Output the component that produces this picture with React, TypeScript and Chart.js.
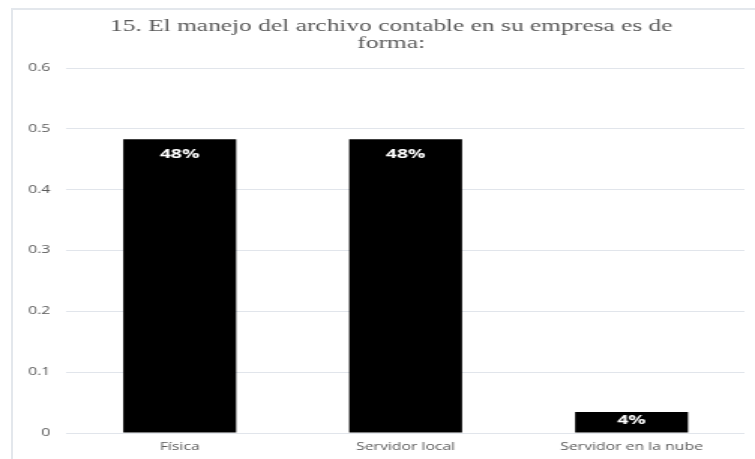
import React, { useEffect, useRef } from "react";
import { Chart, registerables } from "chart.js";

Chart.register(...registerables);

const categories = ["Física", "Servidor local", "Servidor en la nube"];
const values = [0.483, 0.483, 0.0345];
const valueLabels = ["48%", "48%", "4%"];
const titleLines = ["15. El manejo del archivo contable en su empresa es de", "forma:"];

const SX = 1.5;
const W = 755;
const H = 459;
const CW = Math.round(W / SX);

const labelPlugin = {
  id: "barLabels",
  afterDatasetsDraw(chart: any) {
    const ctx = chart.ctx;
    const meta = chart.getDatasetMeta(0);
    ctx.save();
    ctx.fillStyle = "#ffffff";
    ctx.font = "bold 13px 'Open Sans'";
    ctx.textAlign = "center";
    ctx.textBaseline = "middle";
    meta.data.forEach((el: any, i: number) => {
      const y = Math.min(el.y + 15, (el.y + el.base) / 2 - 2);
      ctx.fillText(valueLabels[i], el.x, y);
    });
    ctx.restore();
  },
};

const titlePlugin = {
  id: "titleText",
  afterDraw(chart: any) {
    const ctx = chart.ctx;
    ctx.save();
    ctx.fillStyle = "#595959";
    ctx.font = "16.95px 'Liberation Serif', serif";
    ctx.textAlign = "center";
    ctx.textBaseline = "middle";
    const cx = 391 / SX;
    titleLines.forEach((line, i) => {
      ctx.fillText(line, cx, 26.5 + i * 17);
    });
    ctx.restore();
  },
};

export default function App() {
  const ref = useRef<HTMLCanvasElement>(null);
  useEffect(() => {
    if (!ref.current) return;
    const chart = new Chart(ref.current, {
      type: "bar",
      data: {
        labels: categories,
        datasets: [
          {
            data: values,
            backgroundColor: "#000000",
            borderWidth: 0,
            categoryPercentage: 1,
            barPercentage: 0.5,
          },
        ],
      },
      options: {
        responsive: false,
        animation: false,
        devicePixelRatio: 1,
        layout: { padding: { left: 7.7, right: 7, top: 68, bottom: 0 } },
        plugins: {
          legend: { display: false },
          tooltip: { enabled: false },
          title: { display: false },
        },
        scales: {
          x: {
            grid: { display: false, drawTicks: false },
            border: { display: false },
            afterFit: (scale: any) => {
              scale.height = 26;
            },
            ticks: {
              color: "#595959",
              font: { family: "'Open Sans'", size: 10.5 },
              padding: 8,
              maxRotation: 0,
            },
          },
          y: {
            min: 0,
            max: 0.6,
            border: { display: false },
            grid: { color: "#e1e5eb", drawTicks: false, lineWidth: 1 },
            ticks: {
              stepSize: 0.1,
              color: "#595959",
              font: { family: "'Open Sans'", size: 10.5 },
              padding: 11,
              callback: (v: any) => (Number(v) === 0 ? "0" : Number(v).toFixed(1)),
            },
          },
        },
      },
      plugins: [labelPlugin, titlePlugin],
    });
    return () => chart.destroy();
  }, []);

  return (
    <div style={{ position: "fixed", left: 0, top: 0, width: W, height: H, background: "#fff", overflow: "hidden" }}>
      <div
        style={{
          position: "absolute",
          left: 11,
          top: 8,
          width: 900,
          height: 600,
          borderLeft: "2px solid #e3e7ec",
          borderTop: "2px solid #e3e7ec",
        }}
      />
      <div
        style={{
          position: "absolute",
          left: 0,
          top: 0,
          width: CW,
          height: H,
          transform: `scaleX(${W / CW})`,
          transformOrigin: "0 0",
        }}
      >
        <canvas ref={ref} width={CW} height={H} style={{ display: "block" }} />
      </div>
    </div>
  );
}
